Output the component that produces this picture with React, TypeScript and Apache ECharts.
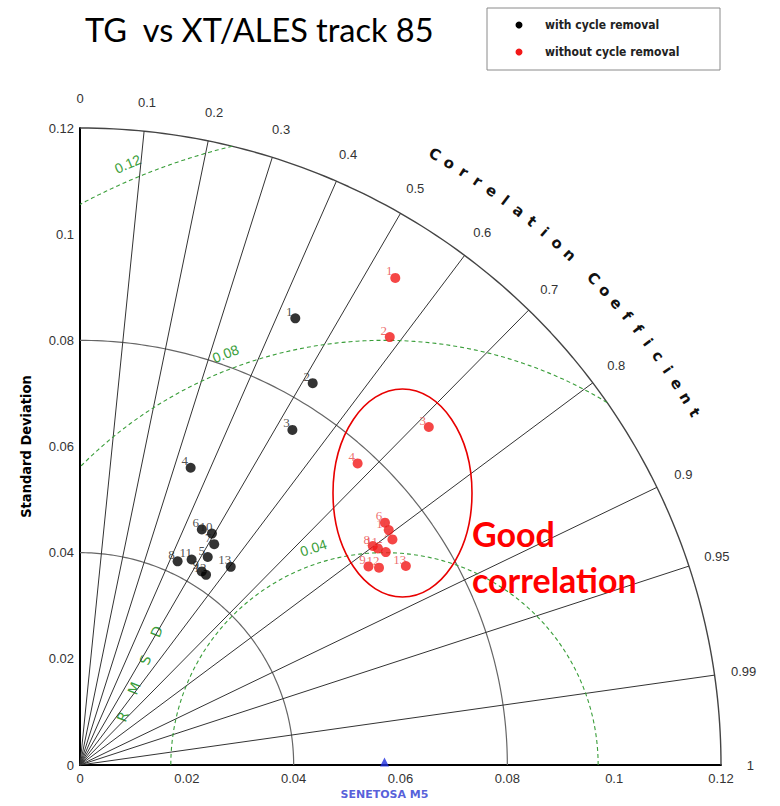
import React, { useEffect, useRef } from 'react';
import * as echarts from 'echarts';

// Taylor diagram: TG vs XT/ALES track 85
const STD_MAX = 0.12;
const REF_STD = 0.057;
const REF_NAME = 'SENETOSA M5';

const pointLabels = ['1', '2', '3', '4', '5', '6', '7', '8', '9', '10', '11', '12', '13'];
const withRemovalStd = [0.0933, 0.0841, 0.0746, 0.0597, 0.0459, 0.0499, 0.0486, 0.0425, 0.043, 0.0501, 0.044, 0.0429, 0.0468];
const withRemovalCorr = [0.432, 0.518, 0.533, 0.347, 0.521, 0.457, 0.517, 0.43, 0.53, 0.493, 0.475, 0.55, 0.603];
const withoutRemovalStd = [0.1091, 0.0993, 0.0912, 0.077, 0.0699, 0.0731, 0.0723, 0.0686, 0.0657, 0.0728, 0.0691, 0.0672, 0.0716];
const withoutRemovalCorr = [0.541, 0.584, 0.716, 0.675, 0.819, 0.781, 0.809, 0.799, 0.822, 0.794, 0.807, 0.833, 0.852];

const stdArcs = [0.04, 0.08, 0.12];
const corrLines = [0.1, 0.2, 0.3, 0.4, 0.5, 0.6, 0.7, 0.8, 0.9, 0.95, 0.99];
const corrTicks = [0, 0.1, 0.2, 0.3, 0.4, 0.5, 0.6, 0.7, 0.8, 0.9, 0.95, 0.99, 1];
const corrTickLabels = ['0', '0.1', '0.2', '0.3', '0.4', '0.5', '0.6', '0.7', '0.8', '0.9', '0.95', '0.99', '1'];
const rmsdArcs = [0.04, 0.08, 0.12];
const rmsdLabels = ['0.04', '0.08', '0.12'];
const rmsdLabelAngles = [108, 111, 113];

const GRID = { left: 80, top: 128, width: 641, height: 637 };
const GREEN = '#3a9e3a';

const toXY = (std: number, corr: number) => [std * corr, std * Math.sqrt(1 - corr * corr)];
const px = (x: number) => GRID.left + (x / STD_MAX) * GRID.width;
const py = (y: number) => GRID.top + GRID.height - (y / STD_MAX) * GRID.height;

const arc = (cx: number, r: number, a0: number, a1: number, n = 120) => {
  const pts: number[][] = [];
  for (let i = 0; i <= n; i++) {
    const a = a0 + ((a1 - a0) * i) / n;
    pts.push([cx + r * Math.cos(a), r * Math.sin(a)]);
  }
  return pts;
};

// RMSD contour around the reference point, kept inside the quarter circle
const rmsdArc = (r: number) => {
  const clamp = (v: number) => Math.max(-1, Math.min(1, v));
  const a0 = Math.acos(clamp((STD_MAX * STD_MAX - REF_STD * REF_STD - r * r) / (2 * REF_STD * r)));
  const a1 = r > REF_STD ? Math.acos(-REF_STD / r) : Math.PI;
  return arc(REF_STD, r, a0, a1, 160);
};

const App: React.FC = () => {
  const chartRef = useRef<HTMLDivElement>(null);

  useEffect(() => {
    if (!chartRef.current) return;
    const chart = echarts.init(chartRef.current, undefined, { renderer: 'svg' });

    const lineBase = { type: 'line', showSymbol: false, symbol: 'none', silent: true, clip: false, z: 1 };

    const series: any[] = [];
    stdArcs.forEach((s) => {
      series.push({
        ...lineBase,
        name: 'std ' + s,
        data: arc(0, s, 0, Math.PI / 2),
        lineStyle: { color: s === STD_MAX ? '#444' : '#666', width: s === STD_MAX ? 1.4 : 1.2 },
      });
    });
    corrLines.forEach((c) => {
      series.push({
        ...lineBase,
        name: 'corr ' + c,
        data: [[0, 0], toXY(STD_MAX, c)],
        lineStyle: { color: '#333', width: 1 },
      });
    });
    rmsdArcs.forEach((r) => {
      series.push({
        ...lineBase,
        name: 'rmsd ' + r,
        data: rmsdArc(r),
        lineStyle: { color: GREEN, width: 1.1, type: [4, 3] },
      });
    });

    const scatter = (name: string, stds: number[], corrs: number[], color: string, labelColor: string) => ({
      type: 'scatter',
      name,
      symbolSize: 10,
      z: 5,
      clip: false,
      itemStyle: { color },
      labelLayout: { hideOverlap: false },
      label: {
        show: true,
        formatter: '{b}',
        position: [-1, -2],
        align: 'center',
        verticalAlign: 'middle',
        color: labelColor,
        textBorderWidth: 0,
        fontSize: 13,
        fontFamily: 'Liberation Serif',
      },
      data: stds.map((s, i) => ({ name: pointLabels[i], value: toXY(s, corrs[i]) })),
    });
    series.push(scatter('with cycle removal', withRemovalStd, withRemovalCorr, '#000', '#222'));
    series.push(scatter('without cycle removal', withoutRemovalStd, withoutRemovalCorr, '#f21818', '#e84848'));
    series.push({
      type: 'scatter',
      name: REF_NAME,
      symbol: 'triangle',
      symbolSize: 9,
      symbolOffset: [0, -3],
      clip: false,
      z: 6,
      itemStyle: { color: '#1f2fe0' },
      label: {
        show: true,
        formatter: REF_NAME,
        position: 'bottom',
        distance: 22,
        color: '#2a35d0',
        fontSize: 11,
        fontWeight: 'bold',
        fontFamily: 'DejaVu Sans',
      },
      data: [[REF_STD, 0]],
    });

    const graphic: any[] = [];
    // correlation tick labels
    corrTicks.forEach((c, i) => {
      const [x, y] = toXY(0.1255, c);
      graphic.push({
        type: 'text',
        x: px(x),
        y: py(y),
        style: { text: corrTickLabels[i], fill: '#333', fontSize: 13, fontFamily: 'Liberation Sans', align: 'center', verticalAlign: 'middle' },
      });
    });
    // curved axis title
    const title = 'Correlation Coefficient'.split('');
    title.forEach((ch, i) => {
      const deg = 60 - (i * 30) / (title.length - 1);
      const a = (deg * Math.PI) / 180;
      graphic.push({
        type: 'text',
        x: px(0.1328 * Math.cos(a)),
        y: py(0.1328 * Math.sin(a)),
        rotation: ((deg - 90) * Math.PI) / 180,
        style: { text: ch, fill: '#111', fontSize: 15, fontWeight: 'bold', fontFamily: 'DejaVu Sans', align: 'center', verticalAlign: 'middle' },
      });
    });
    // RMSD contour labels
    rmsdArcs.forEach((r, i) => {
      const a = (rmsdLabelAngles[i] * Math.PI) / 180;
      graphic.push({
        type: 'text',
        x: px(REF_STD + (r + 0.003) * Math.cos(a)),
        y: py((r + 0.003) * Math.sin(a)),
        rotation: ((rmsdLabelAngles[i] - 90) * Math.PI) / 180,
        style: { text: rmsdLabels[i], fill: GREEN, fontSize: 14, fontFamily: 'Liberation Sans', align: 'center', verticalAlign: 'middle' },
      });
    });
    ['R', 'M', 'S', 'D'].forEach((ch, i) => {
      graphic.push({
        type: 'text',
        x: 122.7 + (i * (156.7 - 122.7)) / 3,
        y: 716.7 + (i * (631.7 - 716.7)) / 3,
        rotation: (68 * Math.PI) / 180,
        style: { text: ch, fill: GREEN, fontSize: 14, fontFamily: 'DejaVu Sans', align: 'center', verticalAlign: 'middle' },
      });
    });
    // legend box
    graphic.push(
      { type: 'rect', shape: { x: 487, y: 8, width: 233, height: 62 }, style: { fill: '#fff', stroke: '#8a8a8a', lineWidth: 1 } },
      { type: 'circle', shape: { cx: 519, cy: 25, r: 3.5 }, style: { fill: '#000' } },
      { type: 'text', x: 545, y: 25, style: { text: 'with cycle removal', fill: '#222', fontSize: 12, fontWeight: 'bold', fontFamily: 'DejaVu Sans Condensed', verticalAlign: 'middle' } },
      { type: 'circle', shape: { cx: 519, cy: 52, r: 3.5 }, style: { fill: '#f21818' } },
      { type: 'text', x: 545, y: 52, style: { text: 'without cycle removal', fill: '#222', fontSize: 12, fontWeight: 'bold', fontFamily: 'DejaVu Sans Condensed', verticalAlign: 'middle' } }
    );
    // annotation
    graphic.push(
      { type: 'ellipse', shape: { cx: 402.5, cy: 493, rx: 69.5, ry: 104 }, style: { fill: 'none', stroke: '#e80000', lineWidth: 1.6 }, z: 10 },
      { type: 'text', x: 472, y: 510, style: { text: 'Good\ncorrelation', fill: '#ff0000', fontSize: 34, fontWeight: 'bold', fontFamily: 'Lato', lineHeight: 46 }, z: 10 }
    );

    const axisLabelFmt = (v: number) => (v === 0 ? '0' : String(+v.toFixed(2)));

    chart.setOption({
      animation: false,
      backgroundColor: '#fff',
      title: {
        text: 'TG  vs XT/ALES track 85',
        left: 80,
        top: 8,
        textStyle: { fontFamily: 'Lato', fontSize: 32.5, fontWeight: 'normal', color: '#000' },
      },
      grid: GRID,
      xAxis: {
        type: 'value',
        min: 0,
        max: STD_MAX,
        interval: 0.02,
        axisLine: { lineStyle: { color: '#000', width: 2 } },
        axisTick: { show: false },
        splitLine: { show: false },
        axisLabel: { color: '#333', fontSize: 13, margin: 7, fontFamily: 'Liberation Sans', formatter: axisLabelFmt },
      },
      yAxis: {
        type: 'value',
        min: 0,
        max: STD_MAX,
        interval: 0.02,
        name: 'Standard Deviation',
        nameLocation: 'middle',
        nameGap: 47,
        nameTextStyle: { color: '#000', fontSize: 14.5, fontWeight: 'bold', fontFamily: 'DejaVu Sans Condensed' },
        axisLine: { lineStyle: { color: '#000', width: 2 } },
        axisTick: { show: false },
        splitLine: { show: false },
        axisLabel: { color: '#333', fontSize: 13, margin: 6, fontFamily: 'Liberation Sans', formatter: axisLabelFmt },
      },
      series,
      graphic,
    });

    return () => {
      chart.dispose();
    };
  }, []);

  return <div ref={chartRef} style={{ position: 'fixed', left: 0, top: 0, width: 780, height: 806 }} />;
};

export default App;
